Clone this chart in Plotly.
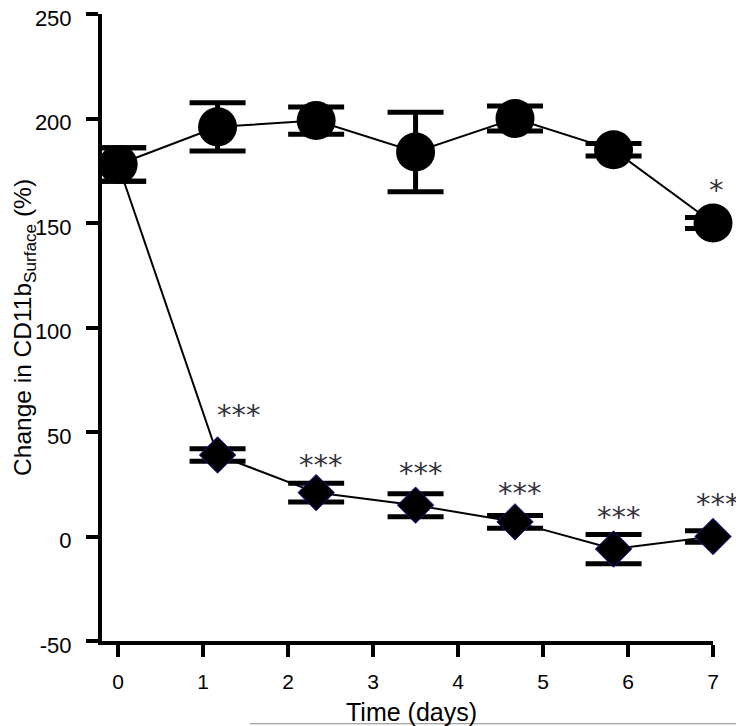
import plotly.graph_objects as go

# ---- data ----
days = [0, 1.17, 2.33, 3.5, 4.67, 5.83, 7]
control_mean = [178, 196, 199, 184, 200, 185, 150]
control_err = [8, 11.5, 6.5, 19, 6, 3, 2.6]
treated_mean = [178, 39, 21, 15, 7, -6, 0]
treated_err = [8, 3, 4.5, 5.5, 3, 7, 2.8]
treated_sig = ["", "***", "***", "***", "***", "***", "***"]
treated_sig_y = [None, 58, 34, 30.5, 21, 9.5, 15.5]
control_sig = ["", "", "", "", "", "", "*"]
control_sig_y = [None, None, None, None, None, None, 166]
x_ticks = [0, 1, 2, 3, 4, 5, 6, 7]
y_ticks = [-50, 0, 50, 100, 150, 200, 250]
y_ticktext = ["-50", "0", "50", "100", "150", "200", "250"]

FONT = "Arial, Liberation Sans, sans-serif"

fig = go.Figure()

# treated (diamonds) - drawn first so circles sit on top at day 0
fig.add_trace(go.Scatter(
    x=days, y=treated_mean,
    mode="lines+markers",
    line=dict(color="black", width=2),
    marker=dict(symbol="diamond", size=28, color="black",
                line=dict(color="#1a1aa0", width=1)),
    error_y=dict(type="data", array=treated_err, visible=True,
                 color="black", thickness=5, width=28),
    cliponaxis=False, showlegend=False,
))

fig.add_trace(go.Scatter(
    x=days, y=control_mean,
    mode="lines+markers",
    line=dict(color="black", width=2),
    marker=dict(symbol="circle", size=39, color="black"),
    error_y=dict(type="data", array=control_err, visible=True,
                 color="black", thickness=5, width=28),
    cliponaxis=False, showlegend=False,
))

STAR_FONT = dict(family="DejaVu Sans, sans-serif", size=29, color="#33333d")
annotations = []
for xv, s, yv in zip(days, treated_sig, treated_sig_y):
    if s:
        annotations.append(dict(x=xv, y=yv, text=s, showarrow=False,
                                xshift=(21 if xv == days[1] else 5),
                                font=STAR_FONT))
for xv, s, yv in zip(days, control_sig, control_sig_y):
    if s:
        annotations.append(dict(x=xv, y=yv, text=s, showarrow=False, xshift=3,
                                font=STAR_FONT))

annotations.append(dict(
    x=-0.127, y=0.5, xref="paper", yref="paper", textangle=-90,
    xanchor="center", yanchor="middle",
    text="Change in CD11b<sub>Surface</sub> (%)", showarrow=False,
    font=dict(family=FONT, size=24.5, color="black")))
annotations.append(dict(
    x=0.506, y=-0.113, xref="paper", yref="paper",
    xanchor="center", yanchor="middle",
    text="Time (days)", showarrow=False,
    font=dict(family=FONT, size=25, color="black")))

fig.update_layout(
    width=744, height=726,
    margin=dict(l=94, r=39, t=6, b=93),
    paper_bgcolor="white", plot_bgcolor="white",
    font=dict(family=FONT, color="black"),
    annotations=annotations,
    shapes=[dict(type="line", xref="paper", yref="paper",
                 x0=0.242, x1=1.1, y0=-0.132, y1=-0.132,
                 line=dict(color="#888888", width=1))],
)

fig.update_xaxes(
    range=[-0.19, 7.0], tickvals=x_ticks,
    showline=True, linecolor="black", linewidth=4,
    ticks="outside", ticklen=12, tickwidth=4, tickcolor="black",
    showgrid=False, zeroline=False, automargin=False,
    tickfont=dict(family=FONT, size=21),
    ticklabelstandoff=7,
)
fig.update_yaxes(
    range=[-50, 250], tickvals=y_ticks, ticktext=y_ticktext,
    showline=True, linecolor="black", linewidth=4,
    ticks="outside", ticklen=12, tickwidth=4, tickcolor="black",
    showgrid=False, zeroline=False, automargin=False,
    ticklabeloverflow="allow", ticklabelshift=4,
    tickfont=dict(family=FONT, size=22),
    ticklabelstandoff=10,
)

fig.write_html("out.html")
